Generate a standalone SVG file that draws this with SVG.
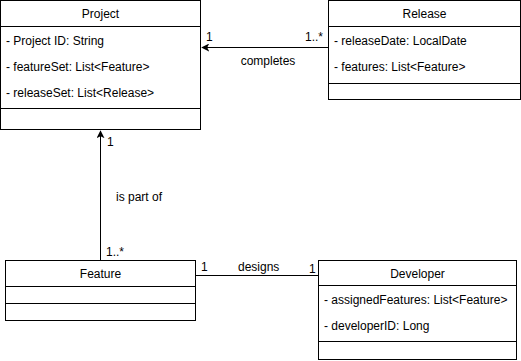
<svg xmlns="http://www.w3.org/2000/svg" width="521" height="361" viewBox="0 0 521 361">
  <style>
    .box { fill: #ffffff; stroke: #000000; stroke-width: 1; }
    .sep { stroke: #000000; stroke-width: 1; fill: none; }
    .edge { stroke: #000000; stroke-width: 1; fill: none; }
    text { font-family: "Liberation Sans", Arial, sans-serif; font-size: 12px; fill: #000000; }
    .title { text-anchor: middle; }
  </style>
  <defs>
    <marker id="arrow" viewBox="0 0 10 10" refX="9" refY="5" markerWidth="8" markerHeight="8" markerUnits="userSpaceOnUse" orient="auto">
      <path d="M0,0 L10,5 L0,10 L2.5,5 Z" fill="#000000"/>
    </marker>
  </defs>

  <!-- connectors -->
  <g id="connectors">
    <path class="edge" d="M328.5,47.5 L202,47.5" marker-end="url(#arrow)"/>
    <text x="206" y="41">1</text>
    <text x="305" y="41">1..*</text>
    <text x="268" y="65" class="title">completes</text>

    <path class="edge" d="M100.5,260 L100.5,131" marker-end="url(#arrow)"/>
    <text x="107" y="146">1</text>
    <text x="116" y="201">is part of</text>
    <text x="106" y="256">1..*</text>

    <path class="edge" d="M195,275.5 L318,275.5"/>
    <text x="201" y="271">1</text>
    <text x="238" y="271">designs</text>
    <text x="309" y="273">1</text>
  </g>

  <!-- Project -->
  <g id="project">
    <rect class="box" x="0.5" y="0.5" width="200" height="129"/>
    <line class="sep" x1="0.5" y1="26.5" x2="200.5" y2="26.5"/>
    <line class="sep" x1="0.5" y1="108.5" x2="200.5" y2="108.5"/>
    <text x="100.5" y="18" class="title">Project</text>
    <text x="6" y="45">- Project ID: String</text>
    <text x="6" y="71">- featureSet: List&lt;Feature&gt;</text>
    <text x="6" y="97">- releaseSet: List&lt;Release&gt;</text>
  </g>

  <!-- Release -->
  <g id="release">
    <rect class="box" x="328.5" y="0.5" width="192" height="99"/>
    <line class="sep" x1="328.5" y1="26.5" x2="520.5" y2="26.5"/>
    <line class="sep" x1="328.5" y1="83.5" x2="520.5" y2="83.5"/>
    <text x="424.5" y="18" class="title">Release</text>
    <text x="334" y="45">- releaseDate: LocalDate</text>
    <text x="334" y="71">- features: List&lt;Feature&gt;</text>
  </g>

  <!-- Feature -->
  <g id="feature">
    <rect class="box" x="5.5" y="260.5" width="190" height="60"/>
    <line class="sep" x1="5.5" y1="286.5" x2="195.5" y2="286.5"/>
    <line class="sep" x1="5.5" y1="303.5" x2="195.5" y2="303.5"/>
    <text x="100.5" y="278" class="title">Feature</text>
  </g>

  <!-- Developer -->
  <g id="developer">
    <rect class="box" x="318.5" y="260.5" width="198" height="99"/>
    <line class="sep" x1="318.5" y1="285.5" x2="516.5" y2="285.5"/>
    <line class="sep" x1="318.5" y1="341.5" x2="516.5" y2="341.5"/>
    <text x="417.5" y="278" class="title">Developer</text>
    <text x="324" y="304">- assignedFeatures: List&lt;Feature&gt;</text>
    <text x="324" y="330">- developerID: Long</text>
  </g>
</svg>
